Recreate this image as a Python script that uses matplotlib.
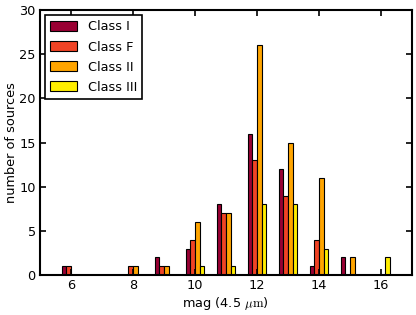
import matplotlib
matplotlib.use("Agg")
import matplotlib.pyplot as plt
import numpy as np

# Data: counts per magnitude bin (bins centred on integer magnitudes)
mag_bins = [6, 7, 8, 9, 10, 11, 12, 13, 14, 15, 16]
class_1 = [1, 0, 0, 2, 3, 8, 16, 12, 1, 2, 0]
class_f = [1, 0, 1, 1, 4, 7, 13, 9, 4, 0, 0]
class_2 = [0, 0, 1, 1, 6, 7, 26, 15, 11, 2, 0]
class_3 = [0, 0, 0, 0, 1, 1, 8, 8, 3, 0, 2]
labels = ['Class I', 'Class F', 'Class II', 'Class III']
colors = ['#990033', '#f04325', '#ffa500', '#ffee00']

plt.rcParams['mathtext.fontset'] = 'cm'
fs = 9.3
fig = plt.figure(figsize=(4.16, 3.15), dpi=100)
ax = fig.add_axes([0.096, 0.127, 0.894, 0.841])

x = np.array(mag_bins)
w = 0.15
for i, (vals, lab, col) in enumerate(zip([class_1, class_f, class_2, class_3], labels, colors)):
    ax.bar(x + (i - 1.5) * w, vals, w, color=col, edgecolor='black', linewidth=0.8, label=lab)

ax.set_xlim(5, 17)
ax.set_ylim(0, 30)
ax.set_xticks([6, 8, 10, 12, 14, 16])
ax.set_yticks(range(0, 31, 5))
ax.tick_params(direction='in', top=True, right=True, length=4, width=1.2,
               labelsize=fs, pad=3)
for s in ax.spines.values():
    s.set_linewidth(1.5)
ax.set_xlabel(r'mag (4.5 $\mu\mathrm{m}$)', fontsize=fs, labelpad=2)
ax.set_ylabel('number of sources', fontsize=fs, labelpad=1)

leg = ax.legend(loc='upper left', fancybox=False, fontsize=fs, handlelength=2.1,
                handleheight=0.8, borderaxespad=0.4, framealpha=1, labelspacing=0.55)
leg.get_frame().set_edgecolor('black')
leg.get_frame().set_linewidth(1.2)

fig.savefig('out.png', dpi=100)
